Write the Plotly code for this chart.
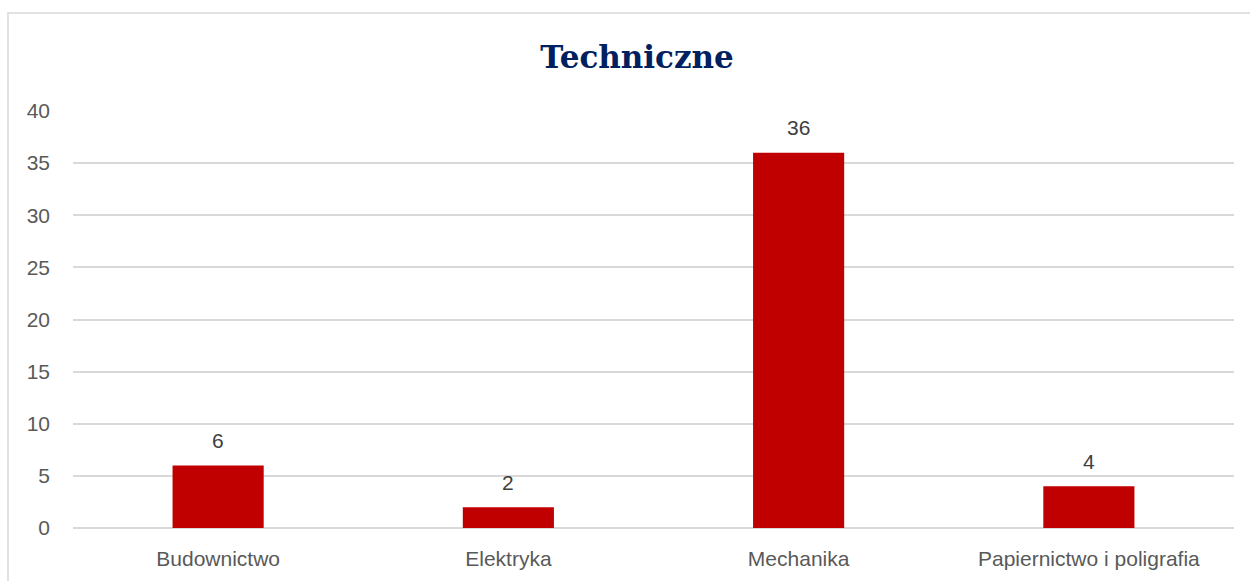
import plotly.graph_objects as go

categories = ["Budownictwo", "Elektryka", "Mechanika", "Papiernictwo i poligrafia"]
values = [6, 2, 36, 4]
y_ticks = [0, 5, 10, 15, 20, 25, 30, 35, 40]

W, H = 1250, 581
L, R, T, B = 73, 16, 111, 53
pw = W - L - R
ph = H - T - B

fig = go.Figure()
fig.add_trace(go.Bar(
    x=categories, y=values,
    marker=dict(color="#C00000", line=dict(width=0)),
    width=0.314,
    hoverinfo="x+y",
))

for c, v in zip(categories, values):
    fig.add_annotation(x=c, y=v, text=str(v), showarrow=False,
                       yanchor="middle", yshift=25,
                       font=dict(family="Liberation Sans", size=21, color="#404040"))

# chart border (light gray frame, partly cropped)
fig.add_shape(type="rect", xref="paper", yref="paper",
              x0=(8 - L) / pw, x1=(W + 10 - L) / pw,
              y0=-(B + 10) / ph, y1=(H - 13 - B) / ph,
              line=dict(color="#D9D9D9", width=1.5), layer="below")

fig.update_layout(
    width=W, height=H,
    margin=dict(l=L, r=R, t=T, b=B, autoexpand=False),
    paper_bgcolor="white", plot_bgcolor="white",
    title=dict(text="<b>Techniczne</b>", x=637 / W, xanchor="center",
               y=1 - 57 / H, yanchor="middle",
               font=dict(family="DejaVu Serif", size=31, color="#002060")),
    showlegend=False,
    bargap=0.686,
    xaxis=dict(showgrid=False, showline=False, ticks="", automargin=False,
               tickfont=dict(family="Liberation Sans", size=21, color="#595959"),
               ticklabelstandoff=16),
    yaxis=dict(range=[0, 40], tickvals=y_ticks, showgrid=True, automargin=False,
               gridcolor="#D9D9D9", gridwidth=1.5,
               zeroline=True, zerolinecolor="#D9D9D9", zerolinewidth=1.5,
               showline=False, ticks="",
               tickfont=dict(family="Liberation Sans", size=21, color="#595959"),
               ticklabelstandoff=22),
    font=dict(family="Liberation Sans"),
)

fig.write_html("out.html", config={"displayModeBar": False},
               post_script="document.body.style.margin='0';document.body.style.overflow='hidden';")
